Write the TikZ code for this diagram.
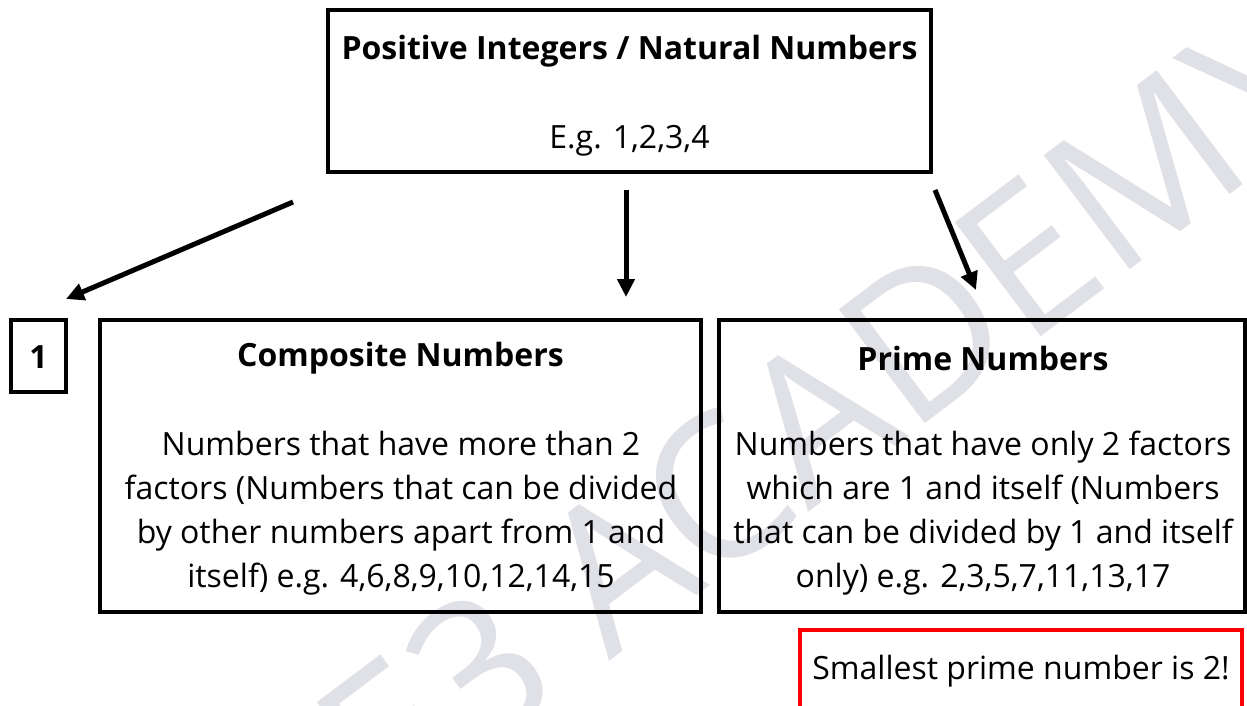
\documentclass[tikz,border=0pt]{standalone}
\usepackage{fontspec}
\setmainfont{Open Sans}
\usetikzlibrary{arrows.meta}
\definecolor{wmgray}{RGB}{224,225,230}
\definecolor{alertred}{RGB}{250,0,0}
\tikzset{
  box/.style={draw=black, line width=4pt, rectangle, inner sep=0pt},
  redbox/.style={draw=alertred, line width=4pt, rectangle, inner sep=0pt},
  txt/.style={inner sep=0pt, align=center, font=\fontsize{32}{44}\selectfont},
  btxt/.style={inner sep=0pt, align=center, font=\fontsize{32}{44}\selectfont\bfseries},
  arr/.style={line width=5pt, -{Triangle[length=18pt,width=17pt]}},
}
\begin{document}
\begin{tikzpicture}[x=1pt,y=-1pt]
\useasboundingbox (0,0) rectangle (1247,705);
% watermark
\node[text=wmgray, inner sep=0pt, rotate=37, font=\fontsize{200}{200}\selectfont] (wm) at (825,410) {E3 ACADEMY};
% boxes
\node[box, minimum width=603pt, minimum height=162pt] (top) at (629.5,91) {};
\node[btxt] (toptitle) at (629.5,51) {Positive Integers / Natural Numbers};
\node[txt] (topeg) at (629.5,141) {E.g. 1,2,3,4};

\node[box, minimum width=55pt, minimum height=72pt] (one) at (38.5,356) {};
\node[btxt] (onetxt) at (38.5,357) {1};

\node[box, minimum width=601pt, minimum height=292pt] (comp) at (400.5,466) {};
\node[btxt] (comptitle) at (400.5,358) {Composite Numbers};
\node[txt] (compbody) at (401,513) {Numbers that have more than 2\\factors (Numbers that can be divided\\by other numbers apart from 1 and\\itself) e.g. 4,6,8,9,10,12,14,15};

\node[box, minimum width=526pt, minimum height=292pt] (prime) at (982,466) {};
\node[btxt] (primetitle) at (983,358) {Prime Numbers};
\node[txt] (primebody) at (983,513) {Numbers that have only 2 factors\\which are 1 and itself (Numbers\\that can be divided by 1 and itself\\only) e.g. 2,3,5,7,11,13,17};

\node[redbox, minimum width=442pt, minimum height=100pt] (note) at (1021,680) {};
\node[txt] (notetxt) at (1021,671) {Smallest prime number is 2!};

% arrows
\coordinate (a1s) at (293,202);
\coordinate (a1e) at (66,299);
\coordinate (a2s) at (626,190);
\coordinate (a2e) at (626,297);
\coordinate (a3s) at (935,190);
\coordinate (a3e) at (976,290);
\draw[arr] (a1s) -- (a1e);
\draw[arr] (a2s) -- (a2e);
\draw[arr] (a3s) -- (a3e);
\end{tikzpicture}
\end{document}
